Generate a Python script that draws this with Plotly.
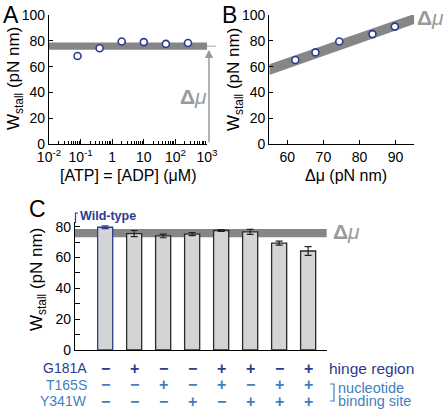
import plotly.graph_objects as go

# ---------------- data ----------------
# Panel A
atp_conc = [0.08, 0.4, 2, 10, 50, 250]
w_stall_a = [68.2, 74.2, 79.4, 79.0, 77.6, 78.3]
dmu_band_a = [73.0, 78.6]
a_tickvals = [0.01, 0.1, 1, 10, 100, 1000]
a_ticktext = ["10<sup>-2</sup>", "10<sup>-1</sup>", "1", "10", "10<sup>2</sup>", "10<sup>3</sup>"]
a_minor = [k * 10 ** n for n in range(-2, 3) for k in range(2, 10)]

# Panel B
dmu_b = [62.2, 67.8, 74.4, 83.6, 89.8]
w_stall_b = [65.1, 71.0, 79.5, 85.2, 91.0]
band_b_x = [55, 95.2]
band_b_lo = [53.4, 93.0]
band_b_hi = [61.8, 100.8]

# Panel C
mutants = ["WT", "G181A", "T165S", "Y341W", "G181A/T165S", "G181A/Y341W", "T165S/Y341W", "triple"]
w_stall_c = [79.6, 75.5, 74.0, 75.2, 77.5, 76.6, 69.3, 64.2]
w_err_c = [0.9, 2.0, 1.2, 1.0, 0.6, 1.6, 1.3, 2.8]
dmu_band_c = [73.1, 78.5]
row_labels = ["G181A", "T165S", "Y341W"]
row_signs = [
    ["−", "+", "−", "−", "+", "+", "−", "+"],
    ["−", "−", "+", "−", "+", "−", "+", "+"],
    ["−", "−", "−", "+", "−", "+", "+", "+"],
]

# ---------------- style ----------------
W, H = 446, 410
FONT = "Liberation Sans, Arial, Helvetica, sans-serif"
NAVY = "#2e3a8f"
LBLUE = "#3f7fc0"
BAND = "#868686"
DMU_TXT = "#9a9a9a"
BAR_FILL = "#d3d4d6"


def px(x):
    return x / W


def py(y):
    return 1 - y / H


fig = go.Figure()

# Panel A
fig.add_trace(go.Scatter(
    x=atp_conc, y=w_stall_a, mode="markers", xaxis="x", yaxis="y",
    marker=dict(size=7, color="white", line=dict(color=NAVY, width=1.6)),
    showlegend=False, cliponaxis=False))

# Panel B
fig.add_trace(go.Scatter(
    x=[band_b_x[0], band_b_x[1], band_b_x[1], band_b_x[0]],
    y=[band_b_lo[0], band_b_lo[1], band_b_hi[1], band_b_hi[0]],
    fill="toself", fillcolor=BAND, mode="none", xaxis="x2", yaxis="y2",
    showlegend=False, hoverinfo="skip"))
fig.add_trace(go.Scatter(
    x=dmu_b, y=w_stall_b, mode="markers", xaxis="x2", yaxis="y2",
    marker=dict(size=7, color="white", line=dict(color=NAVY, width=1.6)),
    showlegend=False))

# Panel C
fig.add_trace(go.Bar(
    x=list(range(len(mutants))), y=w_stall_c, xaxis="x3", yaxis="y3",
    width=0.52,
    marker=dict(color=BAR_FILL,
                line=dict(color=[NAVY] + ["#2a2a2a"] * (len(mutants) - 1), width=1.3)),
    showlegend=False))
fig.add_trace(go.Scatter(
    x=[0], y=[w_stall_c[0]], mode="markers", xaxis="x3", yaxis="y3",
    marker=dict(size=1, color="rgba(0,0,0,0)"),
    error_y=dict(type="data", array=[w_err_c[0]], color=NAVY, thickness=1.2, width=3.5),
    showlegend=False))
fig.add_trace(go.Scatter(
    x=list(range(1, len(mutants))), y=w_stall_c[1:], mode="markers", xaxis="x3", yaxis="y3",
    marker=dict(size=1, color="rgba(0,0,0,0)"),
    error_y=dict(type="data", array=w_err_c[1:], color="#222", thickness=1.2, width=3.5),
    showlegend=False))

axis_common = dict(showline=True, linecolor="black", linewidth=1.3, ticks="inside",
                   tickcolor="black", tickwidth=1, showgrid=False, zeroline=False,
                   tickfont=dict(family=FONT, size=14, color="black"), mirror=False,
                   automargin=False)

shapes = [
    dict(type="rect", xref="x domain", yref="y", x0=0, x1=1, y0=dmu_band_a[0], y1=dmu_band_a[1],
         fillcolor=BAND, line=dict(width=0), layer="below"),
    dict(type="line", xref="paper", yref="y", x0=px(207), x1=px(216),
         y0=sum(dmu_band_a) / 2, y1=sum(dmu_band_a) / 2,
         line=dict(color="#aaaaaa", width=1, dash="dash")),
    dict(type="rect", xref="x3 domain", yref="y3", x0=0, x1=1, y0=dmu_band_c[0], y1=dmu_band_c[1],
         fillcolor=BAND, line=dict(width=0), layer="below"),
    dict(type="path", xref="paper", yref="paper",
         path=f"M {px(78)} {py(213)} L {px(75.5)} {py(213)} L {px(75.5)} {py(223)}",
         line=dict(color=NAVY, width=1.2)),
    dict(type="path", xref="paper", yref="paper",
         path=f"M {px(330)} {py(384)} L {px(334)} {py(384)} L {px(334)} {py(401)} L {px(330)} {py(401)}",
         line=dict(color=LBLUE, width=1.2)),
]

annotations = []


def ann(text, x, y, size, color="black", xanchor="center", yanchor="middle", angle=0, **kw):
    annotations.append(dict(text=text, x=x, y=y, xref="paper", yref="paper", showarrow=False,
                            xanchor=xanchor, yanchor=yanchor, textangle=angle,
                            font=dict(family=FONT, size=size, color=color), **kw))


ann("A", px(1), py(15), 23, xanchor="left")
ann("B", px(220), py(15), 23, xanchor="left")
ann("C", px(27), py(209), 23, xanchor="left")

ann("W<sub>stall</sub> (pN nm)", px(15), py(79), 17, angle=-90)
ann("W<sub>stall</sub> (pN nm)", px(235), py(79), 17, angle=-90)
ann("W<sub>stall</sub> (pN nm)", px(38), py(280), 17, angle=-90)
ann("[ATP] = [ADP] (μM)", px(128), py(176), 16)
ann("Δμ (pN nm)", px(346), py(176), 16)

dmu_text = "<b>Δ</b><i>μ</i>"
ann(dmu_text, px(193), py(96), 21, color=DMU_TXT)
ann(dmu_text, px(415), py(17), 21, color=DMU_TXT, xanchor="left")
ann(dmu_text, px(331), py(232), 21, color=DMU_TXT, xanchor="left")

ann("<b>Wild-type</b>", px(78), py(216), 12.5, color=NAVY, xanchor="left")

annotations.append(dict(text="", x=px(209), xref="paper", y=dmu_band_a[0], yref="y",
                        ax=0, ay=94, showarrow=True, arrowhead=2, arrowsize=1.1,
                        arrowwidth=1.5, arrowcolor="#9a9a9a"))

row_y = [368, 384.5, 401]
row_colors = [NAVY, LBLUE, LBLUE]
for r, (lab, signs) in enumerate(zip(row_labels, row_signs)):
    ann(lab, px(89), py(row_y[r]), 14, color=row_colors[r], xanchor="right")
    for i, s in enumerate(signs):
        annotations.append(dict(text=f"<b>{s}</b>", x=i, xref="x3", y=py(row_y[r]), yref="paper",
                                showarrow=False, xanchor="center", yanchor="middle",
                                font=dict(family=FONT, size=16, color=row_colors[r])))
ann("hinge region", px(327), py(368), 15.5, color=NAVY, xanchor="left")
ann("nucleotide", px(336), py(387.5), 14.5, color=LBLUE, xanchor="left")
ann("binding site", px(336), py(400.5), 14.5, color=LBLUE, xanchor="left")

fig.update_layout(
    width=W, height=H, margin=dict(l=0, r=0, t=0, b=0, autoexpand=False),
    paper_bgcolor="white", plot_bgcolor="white",
    font=dict(family=FONT, size=14, color="black"),
    showlegend=False,
    xaxis=dict(domain=[px(49), px(207)], anchor="y", type="log", range=[-2, 3],
               tickvals=a_tickvals, ticktext=a_ticktext, ticklen=5,
               minor=dict(tickvals=a_minor, ticks="inside", ticklen=3, tickcolor="black"),
               **axis_common),
    yaxis=dict(domain=[py(144), py(15)], anchor="x", range=[0, 100], dtick=20, ticklen=4,
               **axis_common),
    xaxis2=dict(domain=[px(269.3), px(414.3)], anchor="y2", range=[55, 95.2],
                tickvals=[60, 70, 80, 90], ticklen=4, **axis_common),
    yaxis2=dict(domain=[py(144), py(15)], anchor="x2", range=[0, 100], dtick=20, ticklen=4,
                **axis_common),
    xaxis3=dict(domain=[px(75), px(326.7)], anchor="y3", range=[-1.04, 7.64],
                showticklabels=False, showline=True, linecolor="black", linewidth=1.3,
                ticks="", showgrid=False, zeroline=False, automargin=False),
    yaxis3=dict(domain=[py(350), py(222)], anchor="x3", range=[0, 83], tickvals=[0, 20, 40, 60, 80],
                ticklen=5, minor=dict(tickvals=[10, 30, 50, 70], ticks="inside", ticklen=5,
                                      tickcolor="black"),
                **axis_common),
    shapes=shapes,
    annotations=annotations,
)

fig.write_html("out.html", config={"displayModeBar": False},
               post_script="document.body.style.margin='0';document.body.style.overflow='hidden';")
